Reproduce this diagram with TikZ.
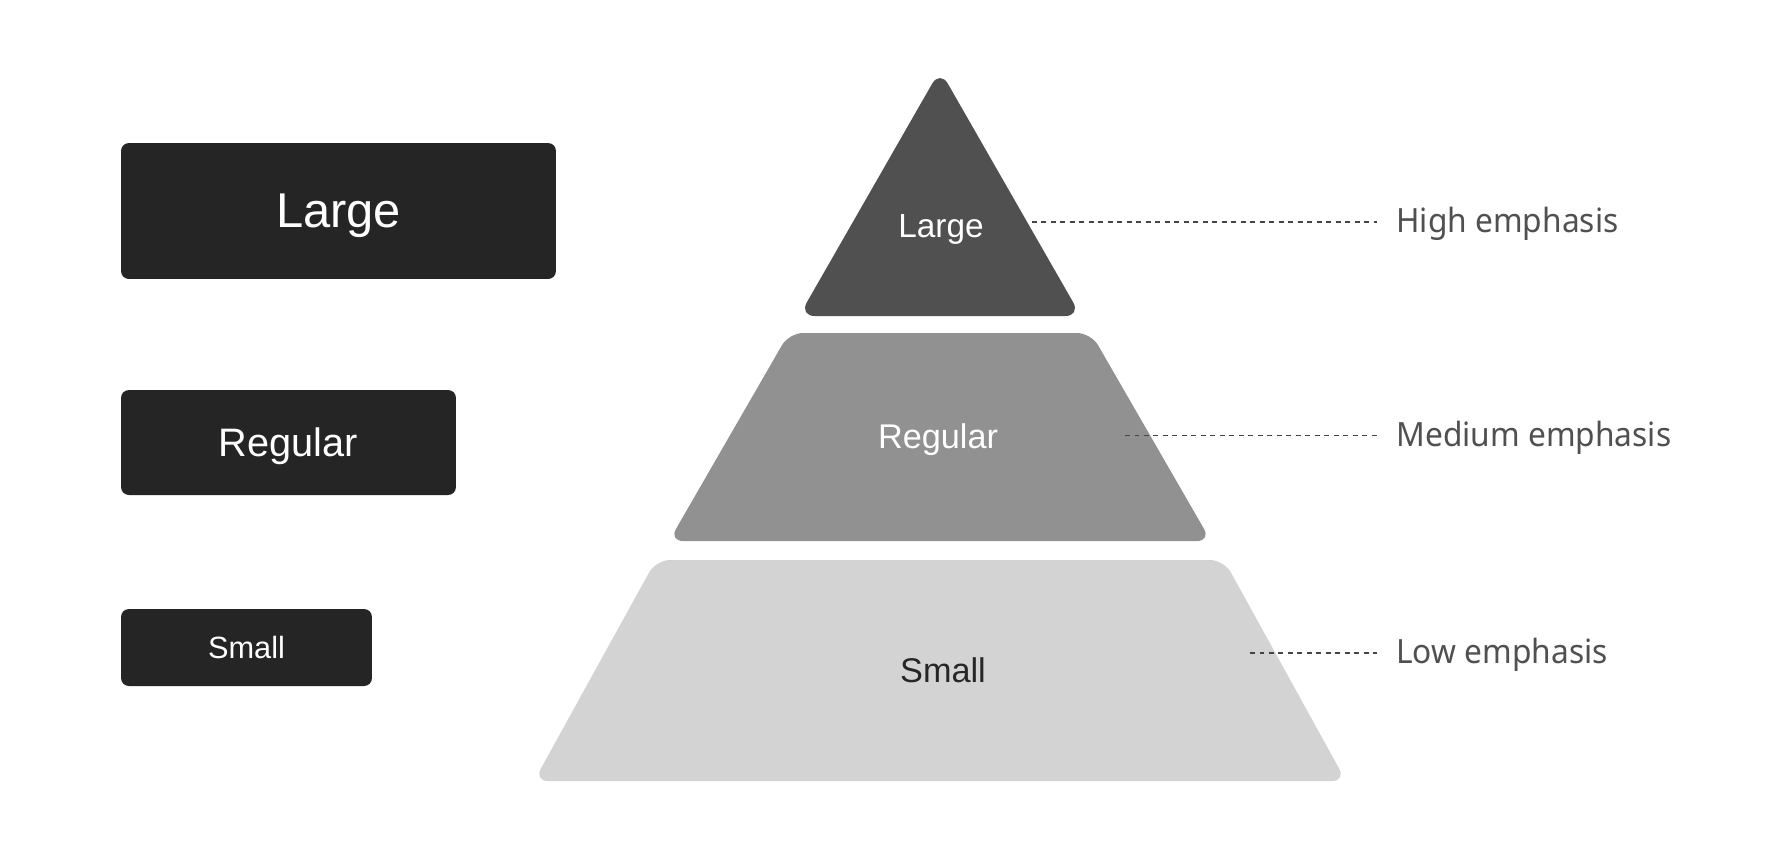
\documentclass[tikz,border=0pt]{standalone}
\usepackage{fontspec}
\setmainfont{Liberation Sans}
\newfontfamily\notefont[FakeStretch=0.95]{Noto Sans}
\usetikzlibrary{positioning}

\definecolor{btngray}{HTML}{252525}
\definecolor{topgray}{HTML}{505050}
\definecolor{midgray}{HTML}{919191}
\definecolor{lowgray}{HTML}{D3D3D3}
\definecolor{inkgray}{HTML}{262626}
\definecolor{notegray}{HTML}{505050}
\definecolor{dotgray}{HTML}{444444}

\tikzset{
  button/.style = {fill = btngray, rounded corners = 4.5pt, text = white, inner sep = 0pt, text depth = 0pt},
  tier/.style = {anchor = base, inner sep = 0pt},
  note/.style = {text = notegray, anchor = west, inner sep = 0pt, font = \notefont\fontsize{19}{22}\selectfont},
  leader/.style = {draw = dotgray, line width = 1.1pt, dash pattern = on 2.8pt off 2.6pt, shorten > = 11pt},
}

\begin{document}
\begin{tikzpicture}[x = 0.02cm, y = -0.02cm]
    \useasboundingbox [fill = white] (0, 0) rectangle (1792, 860);

    % size buttons
    \node [button, minimum width = 8.7cm, minimum height = 2.72cm, font = \fontsize{27.8}{30}\selectfont] (bigbtn) at (338.5, 211) {Large};
    \node [button, minimum width = 6.7cm, minimum height = 2.1cm, font = \fontsize{22.6}{26}\selectfont] (midbtn) at (288.5, 442.5) {Regular};
    \node [button, minimum width = 5.02cm, minimum height = 1.54cm, font = \fontsize{17.5}{20}\selectfont] (lowbtn) at (246.5, 647.5) {Small};

    % pyramid
    \fill [topgray, rounded corners = 9pt] (940, 70) -- (1081, 316) -- (799, 316) -- cycle;
    \fill [midgray, rounded corners = 8pt] (789, 333) -- (1091, 333) -- (1211, 541) -- (669, 541) -- cycle;
    \fill [lowgray, rounded corners = 8pt] (656, 560) -- (1224, 560) -- (1346, 781) -- (534, 781) -- cycle;

    \node [tier, text = white, font = \fontsize{19}{22}\selectfont] (toptxt) at (941, 237) {Large};
    \node [tier, text = white, font = \fontsize{19.5}{22}\selectfont] (midtxt) at (938, 448) {Regular};
    \node [tier, text = inkgray, font = \fontsize{19.5}{22}\selectfont] (lowtxt) at (943, 682) {Small};

    % emphasis notes
    \node [note] (hinote) at (1396, 224) {High emphasis};
    \node [note] (midnote) at (1396, 438) {Medium emphasis};
    \node [note] (lownote) at (1396, 655) {Low emphasis};

    \coordinate (histart) at (1032, 222);
    \coordinate (midstart) at (1125, 435.5);
    \coordinate (lowstart) at (1250, 652.6);

    \draw [leader] (histart) -- (histart -| hinote.west);
    \draw [leader] (midstart) -- (midstart -| midnote.west);
    \draw [leader] (lowstart) -- (lowstart -| lownote.west);
\end{tikzpicture}
\end{document}
